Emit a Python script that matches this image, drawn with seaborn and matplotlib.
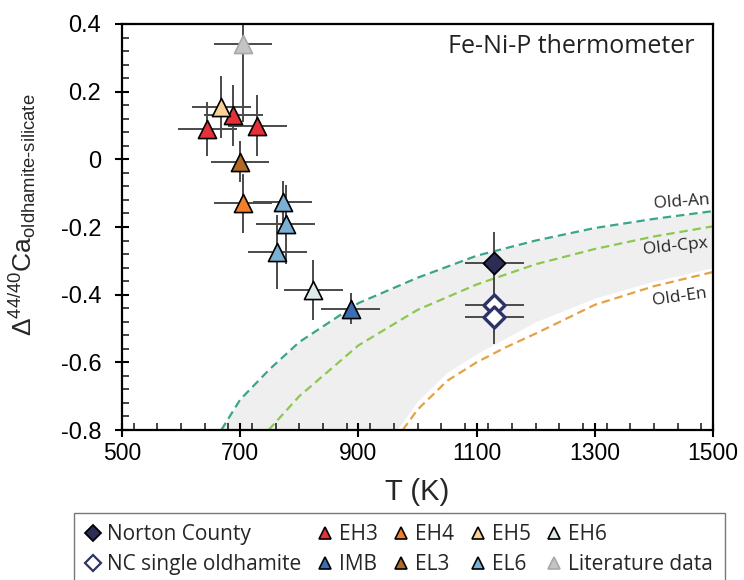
import matplotlib
matplotlib.use('Agg')
import matplotlib.pyplot as plt
from matplotlib.lines import Line2D
from matplotlib.ticker import MultipleLocator
import pandas as pd
import seaborn as sns

groups = ['EH3', 'EH3', 'EH3', 'EH5', 'Literature data', 'EL3', 'EH4', 'EL6', 'EL6', 'EL6',
          'EH6', 'IMB', 'Norton County', 'NC single oldhamite', 'NC single oldhamite']
temps = [644, 688, 729, 668, 704, 699, 704, 772, 777, 763, 824, 887, 1130, 1130, 1130]
deltas = [0.09, 0.13, 0.10, 0.155, 0.34, -0.007, -0.13, -0.127, -0.192, -0.274,
          -0.387, -0.441, -0.305, -0.432, -0.466]
temp_err = [50, 50, 50, 50, 49, 49, 49, 50, 50, 50, 50, 50, 50, 50, 50]
delta_err = [0.08, 0.09, 0.09, 0.092, 0.23, 0.06, 0.087, 0.064, 0.116, 0.11,
             0.089, 0.046, 0.09, 0.08, 0.08]

# Equilibrium fractionation curves
an_temps = [668, 700, 750, 800, 900, 1000, 1100, 1200, 1300, 1400, 1500]
an_deltas = [-0.80, -0.71, -0.62, -0.54, -0.425, -0.35, -0.285, -0.24, -0.203, -0.176, -0.153]
cpx_temps = [748, 800, 900, 1000, 1100, 1200, 1300, 1400, 1500]
cpx_deltas = [-0.80, -0.70, -0.55, -0.445, -0.37, -0.31, -0.265, -0.228, -0.198]
en_temps = [975, 1000, 1050, 1100, 1150, 1200, 1300, 1400, 1500]
en_deltas = [-0.80, -0.74, -0.655, -0.60, -0.555, -0.515, -0.43, -0.375, -0.333]

# grey uncertainty band
band_temps = [668, 700, 750, 800, 900, 965, 1000, 1050, 1100, 1200, 1300, 1400, 1500]
band_upper = [-0.80, -0.71, -0.62, -0.54, -0.425, -0.375, -0.35, -0.315, -0.285, -0.24,
              -0.203, -0.176, -0.153]
band_lower = [-0.80, -0.80, -0.80, -0.80, -0.80, -0.80, -0.715, -0.63, -0.575, -0.48,
              -0.41, -0.36, -0.32]

x_ticks = [500, 700, 900, 1100, 1300, 1500]
y_ticks = [0.4, 0.2, 0, -0.2, -0.4, -0.6, -0.8]
y_tick_labels = ['0.4', '0.2', '0', '-0.2', '-0.4', '-0.6', '-0.8']

legend_order = ['Norton County', 'NC single oldhamite', 'EH3', 'IMB', 'EH4', 'EL3',
                'EH5', 'EL6', 'EH6', 'Literature data']

styles = {
    'Norton County': dict(marker='D', face='#2b2d55', edge='black', lw=1.3, s=125),
    'NC single oldhamite': dict(marker='D', face='white', edge='#2e3366', lw=2.4, s=115),
    'EH3': dict(marker='^', face='#e8303a', edge='black', lw=1.2, s=170),
    'EH4': dict(marker='^', face='#f47f2a', edge='black', lw=1.2, s=170),
    'EH5': dict(marker='^', face='#f8d294', edge='black', lw=1.2, s=170),
    'EH6': dict(marker='^', face='#dde9ea', edge='black', lw=1.2, s=170),
    'IMB': dict(marker='^', face='#3b6db5', edge='black', lw=1.2, s=170),
    'EL3': dict(marker='^', face='#b06a28', edge='black', lw=1.2, s=170),
    'EL6': dict(marker='^', face='#7bafd4', edge='black', lw=1.2, s=170),
    'Literature data': dict(marker='^', face='#c4c4c4', edge='#a9a9a9', lw=1.2, s=170),
}

df = pd.DataFrame({'group': groups, 'T': temps, 'delta': deltas,
                   'T_err': temp_err, 'd_err': delta_err})

sns.set_theme(style='ticks')
plt.rcParams['font.family'] = ['Liberation Sans', 'DejaVu Sans']
plt.rcParams['mathtext.fontset'] = 'custom'
plt.rcParams['mathtext.rm'] = 'Liberation Sans'
plt.rcParams['mathtext.it'] = 'Liberation Sans'
plt.rcParams['axes.unicode_minus'] = False
narrow = ['Open Sans', 'DejaVu Sans']

fig = plt.figure(figsize=(7.44, 5.80), dpi=100)
ax = fig.add_axes([122 / 744, 1 - 430 / 580, 591 / 744, 406 / 580])

ax.fill_between(band_temps, band_lower, band_upper, color='#efefef', lw=0, zorder=0)

for t, d, c in [(an_temps, an_deltas, '#3aa58c'),
                (cpx_temps, cpx_deltas, '#8cc84f'),
                (en_temps, en_deltas, '#e3a248')]:
    sns.lineplot(x=t, y=d, ax=ax, color=c, lw=1.6, linestyle=(0, (3.8, 2.2)), zorder=1)

ax.errorbar(df['T'], df['delta'], xerr=df['T_err'], yerr=df['d_err'], fmt='none',
            ecolor='#4a4a4a', elinewidth=1.4, capsize=0, zorder=2)

for g, sub in df.groupby('group', sort=False):
    st = styles[g]
    sns.scatterplot(data=sub, x='T', y='delta', ax=ax, marker=st['marker'], s=st['s'],
                    color=st['face'], edgecolor=st['edge'], linewidth=st['lw'],
                    legend=False, zorder=3)

ax.text(0.968, 0.945, 'Fe-Ni-P thermometer', transform=ax.transAxes, ha='right',
        va='center', fontsize=18, family=narrow, color='#222222')
ax.text(1398, -0.127, 'Old-An', ha='left', va='center', rotation=4, fontsize=12.5,
        family=narrow, clip_on=True)
ax.text(1381, -0.259, 'Old-Cpx', ha='left', va='center', rotation=6, fontsize=12.5,
        family=narrow, clip_on=True)
ax.text(1396, -0.407, 'Old-En', ha='left', va='center', rotation=8, fontsize=12.5,
        family=narrow, clip_on=True)

ax.set_xlim(500, 1500)
ax.set_ylim(-0.8, 0.4)
ax.set_xticks(x_ticks)
ax.set_yticks(y_ticks)
ax.set_yticklabels(y_tick_labels)
ax.xaxis.set_minor_locator(MultipleLocator(40))
ax.yaxis.set_minor_locator(MultipleLocator(0.04))
ax.tick_params(which='major', direction='inout', length=10, width=1.5, labelsize=16.5,
               colors='black', pad=4)
ax.tick_params(axis='y', which='major', labelsize=17, pad=10)
ax.tick_params(which='minor', direction='in', length=5, width=1.2)
for sp in ax.spines.values():
    sp.set_visible(True)
    sp.set_linewidth(1.6)
    sp.set_color('black')

ax.set_xlabel('T (K)', fontsize=21, labelpad=9)
ax.set_ylabel('$\\Delta^{44/40}$Ca$_{oldhamite\u2010silicate}$', fontsize=19)
ax.yaxis.set_label_coords(-0.142, 0.53)

handles = []
for g in legend_order:
    st = styles[g]
    handles.append(Line2D([], [], marker=st['marker'], linestyle='none',
                          markerfacecolor=st['face'], markeredgecolor=st['edge'],
                          markeredgewidth=min(st['lw'], 1.6), markersize=8))
fig.legend(handles, legend_order, ncol=5, loc='upper left',
           bbox_to_anchor=(74 / 744, 1 - 513 / 580), borderaxespad=0,
           frameon=True, fancybox=False, edgecolor='#555555',
           handlelength=0.75, handletextpad=0.3, columnspacing=0.75,
           borderpad=0.55, labelspacing=0.42,
           prop={'family': narrow, 'size': 15})

fig.savefig('out.png', dpi=100)
